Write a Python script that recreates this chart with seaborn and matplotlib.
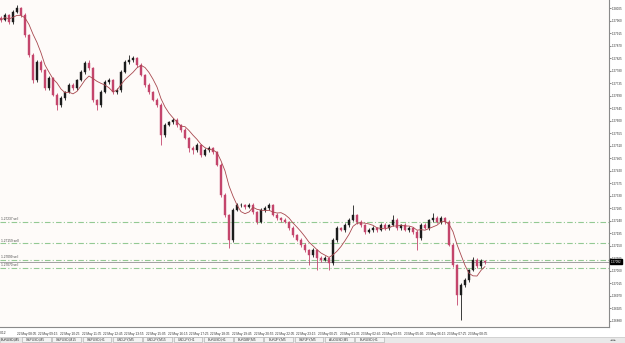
import numpy as np
import pandas as pd
import seaborn as sns
import matplotlib
matplotlib.use("Agg")
import matplotlib.pyplot as plt
from matplotlib.patches import Rectangle
import matplotlib.transforms as mtransforms

# ---------------- data (EURUSD candles) ----------------
closes = [
    1.27963, 1.27981, 1.27956, 1.27992, 1.28006, 1.27981, 1.27909, 1.27837, 1.27747, 1.27812,
    1.27783, 1.27718, 1.27754, 1.27693, 1.27657, 1.27682, 1.27704, 1.27729, 1.27718, 1.27747,
    1.27776, 1.27808, 1.27790, 1.27675, 1.27657, 1.27704, 1.27740, 1.27747, 1.27704, 1.27711,
    1.27776, 1.27812, 1.27819, 1.27826, 1.27801, 1.27765, 1.27729, 1.27704, 1.27675, 1.27657,
    1.27549, 1.27585, 1.27596, 1.27603, 1.27585, 1.27567, 1.27538, 1.27502, 1.27495, 1.27513,
    1.27477, 1.27495, 1.27502, 1.27488, 1.27441, 1.27333, 1.27261, 1.27171, 1.27279, 1.27297,
    1.27297, 1.27290, 1.27297, 1.27272, 1.27236, 1.27279, 1.27286, 1.27297, 1.27261, 1.27250,
    1.27243, 1.27236, 1.27214, 1.27189, 1.27171, 1.27153, 1.27135, 1.27117, 1.27135, 1.27106,
    1.27099, 1.27106, 1.27088, 1.27171, 1.27214, 1.27207, 1.27225, 1.27243, 1.27261, 1.27236,
    1.27225, 1.27200, 1.27207, 1.27214, 1.27207, 1.27225, 1.27214, 1.27225, 1.27243, 1.27214,
    1.27225, 1.27207, 1.27214, 1.27200, 1.27178, 1.27225, 1.27214, 1.27243, 1.27250, 1.27236,
    1.27250, 1.27236, 1.27153, 1.27081, 1.26973, 1.27009, 1.27027, 1.27063, 1.27099, 1.27077,
    1.27095, 1.27092,
]
first_open = 1.27970
opens = [first_open] + closes[:-1]

# wick lengths in points (0.00001)
wick_up = [
    6, 8, 5, 7, 11, 4, 6, 5, 9, 7,
    6, 5, 8, 4, 6, 7, 5, 8, 6, 5,
    7, 6, 11, 4, 5, 8, 6, 7, 5, 6,
    8, 7, 18, 6, 5, 7, 4, 6, 5, 8,
    6, 9, 5, 7, 6, 5, 8, 4, 6, 7,
    5, 6, 8, 5, 4, 6, 7, 5, 9, 6,
    7, 5, 6, 8, 4, 7, 6, 9, 5, 6,
    5, 7, 4, 6, 5, 7, 6, 5, 8, 4,
    6, 7, 5, 6, 9, 5, 7, 6, 36, 5,
    6, 5, 7, 6, 5, 8, 6, 5, 18, 6,
    5, 7, 6, 5, 8, 6, 7, 5, 18, 6,
    7, 5, 6, 8, 5, 7, 6, 5, 10, 6,
    7, 5,
]
wick_dn = [
    7, 5, 8, 6, 5, 7, 6, 8, 9, 6,
    7, 7, 6, 5, 18, 6, 7, 5, 8, 6,
    5, 7, 6, 8, 18, 6, 5, 7, 6, 8,
    6, 5, 7, 6, 8, 5, 6, 7, 5, 6,
    36, 6, 5, 7, 6, 8, 5, 15, 15, 6,
    7, 5, 6, 8, 5, 7, 6, 29, 6, 5,
    6, 7, 5, 6, 8, 5, 6, 7, 5, 6,
    7, 5, 6, 8, 5, 6, 7, 36, 6, 43,
    6, 5, 25, 7, 6, 5, 7, 6, 5, 8,
    6, 7, 5, 6, 8, 5, 6, 7, 5, 6,
    7, 5, 6, 8, 43, 6, 5, 7, 6, 5,
    6, 7, 5, 8, 36, 90, 6, 7, 5, 6,
    5, 6,
]

price_levels = [1.28005 - 0.00045 * k for k in range(26)]
order_levels = [1.27237, 1.27159, 1.27099, 1.27070]
order_labels = ["1.27237 sell", "1.27159 sell", "1.27099 sell", "1.27070 sell"]

time_labels = [
    "22 May 08:05", "22 May 09:15", "22 May 10:25", "22 May 11:35", "22 May 12:45",
    "22 May 13:55", "22 May 15:05", "22 May 16:15", "22 May 17:25", "22 May 18:35",
    "22 May 19:45", "22 May 20:55", "22 May 22:05", "22 May 23:15", "23 May 00:25",
    "23 May 01:35", "23 May 02:45", "23 May 03:55", "23 May 05:05", "23 May 06:15",
    "23 May 07:25", "23 May 08:35",
]
first_time_label = "22 May 2012"
tab_labels = ["GBPUSD,M5", "GBPUSD,M15", "GBPUSD,H1", "USDJPY,M5", "USDJPY,M15",
              "USDJPY,H1", "EURUSD,H1", "EURGBP,M5", "EURJPY,M5", "GBPJPY,M5",
              "AUDUSD,M5", "EURUSD,H1"]
active_tab = "EURUSD,M5"

# ---------------- build frame ----------------
n = len(closes)
df = pd.DataFrame({
    "idx": np.arange(n),
    "open": opens,
    "close": closes,
})
df["high"] = df[["open", "close"]].max(axis=1) + np.array(wick_up) * 1e-5
df["low"] = df[["open", "close"]].min(axis=1) - np.array(wick_dn) * 1e-5
df["ma"] = df["close"].rolling(6, min_periods=1).mean()

# ---------------- figure ----------------
sns.set_style("white")
plt.rcParams["font.family"] = ["Liberation Sans", "DejaVu Sans"]

W, H = 625, 343
fig = plt.figure(figsize=(W / 100, H / 100), dpi=100, facecolor="white")
ax = fig.add_axes([0, 16 / H, 609 / W, 1 - 16 / H])
ax.set_facecolor("#fefbf9")

bear_col = "#c4456c"
bull_col = "#1c1c1c"
colors = [bull_col if c >= o else bear_col for o, c in zip(df["open"], df["close"])]

# wicks
ax.vlines(df["idx"], df["low"], df["high"], colors=colors, linewidth=0.6, zorder=3)
# bodies
body_bottom = df[["open", "close"]].min(axis=1)
body_h = (df["close"] - df["open"]).abs().clip(lower=1.5e-5)
ax.bar(df["idx"], body_h, bottom=body_bottom, width=0.6, color=colors,
       edgecolor=colors, linewidth=0.3, zorder=4)

# moving average
sns.lineplot(data=df, x="idx", y="ma", ax=ax, color="#a8484f", linewidth=0.6,
             zorder=5, legend=False)

# order levels
for lvl, lab in zip(order_levels, order_labels):
    ax.axhline(lvl, color="#93c993", linewidth=0.8, linestyle=(0, (5, 2, 1, 2)), zorder=2)
    ax.text(0.0, lvl + 0.00003, lab, fontsize=2.3, color="#444444",
            ha="left", va="bottom", zorder=6)

# bid line
last_price = closes[-1]
ax.axhline(last_price, color="#a0a0a0", linewidth=0.7, zorder=2)

# axes limits
ax.set_xlim(-0.25, 152)
ax.set_ylim(1.28035 - 327 * 0.000036, 1.28035)

# y axis on right
ax.yaxis.tick_right()
ax.set_yticks(price_levels)
ax.set_yticklabels([f"{p:.5f}" for p in price_levels], fontsize=2.2, color="#333333")
ax.tick_params(axis="y", length=1.2, width=0.5, pad=0.6, colors="#555555", labelcolor="#333333")

# x axis
tick_pos = 4 + 5.375 * np.arange(len(time_labels))
ax.set_xticks(tick_pos)
ax.set_xticklabels(time_labels, fontsize=2.3, color="#333333", ha="left")
ax.tick_params(axis="x", length=2.5, width=0.5, pad=1.0, colors="#555555", labelcolor="#333333")
ax.text(-3.6, -0.012, first_time_label,
        transform=mtransforms.blended_transform_factory(ax.transData, ax.transAxes),
        fontsize=2.3, color="#333333", ha="left", va="top", clip_on=False)

ax.set_xlabel("")
ax.set_ylabel("")
for side in ["left", "top"]:
    ax.spines[side].set_visible(False)
for side in ["right", "bottom"]:
    ax.spines[side].set_visible(True)
    ax.spines[side].set_color("#8a8a8a")
    ax.spines[side].set_linewidth(0.8)

# current price label
trans = mtransforms.blended_transform_factory(ax.transAxes, ax.transData)
ax.text(1.003, last_price, f"{last_price:.5f}", transform=trans, fontsize=2.2,
        color="white", ha="left", va="center", clip_on=False, zorder=10,
        bbox=dict(boxstyle="square,pad=0.15", facecolor="black", edgecolor="black"))

# bottom tab bar
fig.add_artist(Rectangle((0, 0), 1, 6.5 / H, transform=fig.transFigure,
                         facecolor="#e9e9e9", edgecolor="#b8b8b8", linewidth=0.4))
fig.text(1 / W, 3 / H, active_tab, fontsize=2.3, color="#222222", ha="left", va="center")
tab_w = 30.3
x0 = 22
for k, lab in enumerate(tab_labels):
    fig.add_artist(Rectangle(((x0 + k * tab_w) / W, 0.6 / H), (tab_w - 1.5) / W, 5.2 / H,
                             transform=fig.transFigure, facecolor="#f4f4f4",
                             edgecolor="#a8a8a8", linewidth=0.4))
    fig.text((x0 + k * tab_w + 4) / W, 3.2 / H, lab, fontsize=2.3, color="#333333",
             ha="left", va="center")
fig.text(610 / W, 3.2 / H, "◄ ►", fontsize=2.3, color="#444444", ha="left", va="center",
         family=["DejaVu Sans"])

fig.savefig("out.png", dpi=100, facecolor="white")
